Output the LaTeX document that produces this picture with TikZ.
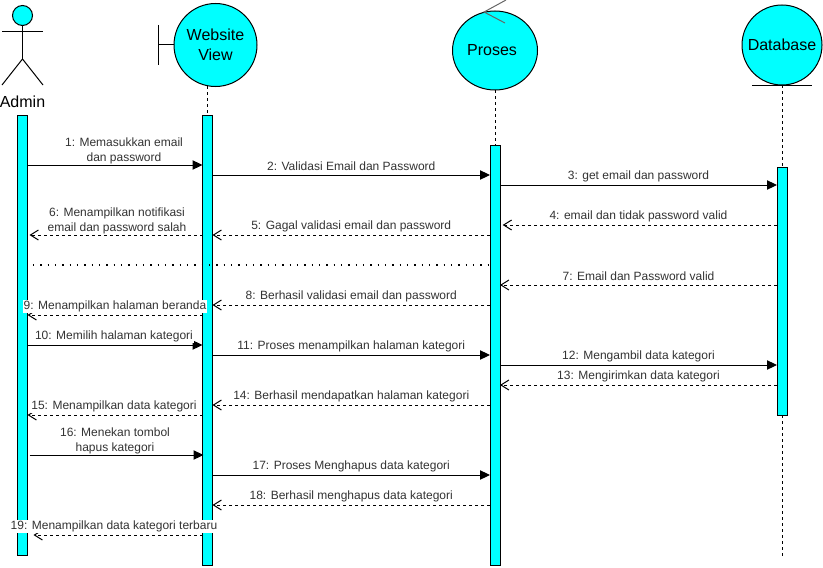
\documentclass[tikz,border=0pt]{standalone}
\usepackage{fontspec}
\setmainfont{Liberation Sans}
\usetikzlibrary{arrows.meta,shapes.geometric}
\definecolor{aqua}{RGB}{0,255,255}
\begin{document}
\begin{tikzpicture}[x=0.75pt,y=-0.75pt,line width=0.75pt]
\tikzstyle{bar} = [draw, rectangle, fill = aqua, minimum width = 7.5pt, inner sep = 0pt, outer sep = 0pt] % activation bar
\tikzstyle{role} = [draw, fill = aqua, inner sep = 0pt, outer sep = 0pt, align = center, font = \fontsize{12pt}{15pt}\selectfont] % lifeline head
\tikzstyle{msg} = [-{Triangle[length = 7.5pt, width = 7pt]}] % solid message
\tikzstyle{back} = [dash pattern = on 2.25pt off 2.25pt, -{Straight Barb[length = 6pt, width = 7.5pt]}] % dashed answer
\tikzstyle{life} = [dash pattern = on 2.25pt off 2.25pt] % lifeline
\tikzstyle{txt} = [midway, fill = white, inner sep = 0.5pt, align = center, text = black!80, font = \fontsize{9pt}{11.25pt}\selectfont, yshift = 6.4pt] % message label
\useasboundingbox (0,0) rectangle (823,567);
% heads
\node(adminhead)[role, circle, minimum size = 15pt] at (22.5,15.5){};
\node(adminlabel) at (22.5,101.5){\fontsize{12pt}{15pt}\selectfont Admin};
\coordinate(hip) at (22.5,59);
\draw(adminhead.south)--(hip);
\draw(2,32)--(43,32);
\draw(2,85)--(hip)--(43,85);
\node(view)[role, circle, minimum size = 62.25pt] at (215.5,45){Website\\View};
\draw(view.west)--++(-16,0)coordinate(viewend);
\draw(viewend)++(0,-20)--++(0,40);
\node(proses)[role, ellipse, minimum width = 63.75pt, minimum height = 59.25pt] at (495,50.5){Proses\hspace*{4.5pt}};
\coordinate(tip) at (484,12);
\draw[black!60](506,0)--(tip)--(505,23);
\node(database)[role, circle, minimum size = 60pt] at (782,45){Database};
\draw(752,85)--(812,85);
% lifelines
\node(adminbar)[bar, minimum height = 330pt] at (22.5,335){};
\node(viewbar)[bar, minimum height = 337.5pt] at (207.5,340){};
\node(prosesbar)[bar, minimum height = 315pt] at (495,355){};
\node(databasebar)[bar, minimum height = 186pt] at (782,291){};
\coordinate(databaseend) at (782,556);
\draw[life](207.5,86)--(viewbar.north);
\draw[life](proses.south)--(prosesbar.north);
\draw[life](database.south)--(databasebar.north);
\draw[life](databasebar.south)--(databaseend);
% messages
\draw[msg](adminbar.east|-0,165)--(viewbar.west|-0,165)node[txt, yshift = 4.45pt, xshift = 6.75pt]{1: Memasukkan email\\dan password};
\draw[msg](viewbar.east|-0,175)--(prosesbar.west|-0,175)node[txt]{2: Validasi Email dan Password};
\draw[msg](prosesbar.east|-0,185)--(databasebar.west|-0,185)node[txt]{3: get email dan password};
\draw[back, shorten > = 2pt](databasebar.west|-0,225)--(prosesbar.east|-0,225)node[txt]{4: email dan tidak password valid};
\draw[back](prosesbar.west|-0,235)--(viewbar.east|-0,235)node[txt]{5: Gagal validasi email dan password};
\draw[back, shorten > = 1.5pt](viewbar.west|-0,235)--(adminbar.east|-0,235)node[txt, yshift = 4.1pt, xshift = 1.5pt]{6: Menampilkan notifikasi\\email dan password salah};
\draw[line width = 1.2pt, dash pattern = on 1.2pt off 4.3pt, shorten < = 4pt](adminbar.east|-0,265)--(prosesbar.west|-0,265);
\draw[back](databasebar.west|-0,285)--(prosesbar.east|-0,285)node[txt]{7: Email dan Password valid};
\draw[back](prosesbar.west|-0,305)--(viewbar.east|-0,305)node[txt]{8: Berhasil validasi email dan password};
\draw[back](viewbar.west|-0,315)--(adminbar.east|-0,315)node[txt]{9: Menampilkan halaman beranda};
\draw[msg](adminbar.east|-0,345)--(viewbar.west|-0,345)node[txt, xshift = -0.75pt]{10: Memilih halaman kategori};
\draw[msg](viewbar.east|-0,355)--(prosesbar.west|-0,355)node[txt]{11: Proses menampilkan halaman kategori};
\draw[msg](prosesbar.east|-0,365)--(databasebar.west|-0,365)node[txt]{12: Mengambil data kategori};
\draw[back](databasebar.west|-0,385)--(prosesbar.east|-0,385)node[txt]{13: Mengirimkan data kategori};
\draw[back](prosesbar.west|-0,405)--(viewbar.east|-0,405)node[txt]{14: Berhasil mendapatkan halaman kategori};
\draw[back](viewbar.west|-0,415)--(adminbar.east|-0,415)node[txt, xshift = -0.75pt]{15: Menampilkan data kategori};
\draw[msg, shorten < = 1.5pt, shorten > = -0.75pt](adminbar.east|-0,455)--(viewbar.west|-0,455)node[txt, yshift = 4.45pt]{16: Menekan tombol\\hapus kategori};
\draw[msg](viewbar.east|-0,475)--(prosesbar.west|-0,475)node[txt]{17: Proses Menghapus data kategori};
\draw[back](prosesbar.west|-0,505)--(viewbar.east|-0,505)node[txt]{18: Berhasil menghapus data kategori};
\draw[back, shorten > = 4.5pt](viewbar.west|-0,535)--(adminbar.east|-0,535)node[txt, xshift = -0.75pt]{19: Menampilkan data kategori terbaru};
\end{tikzpicture}
\end{document}
